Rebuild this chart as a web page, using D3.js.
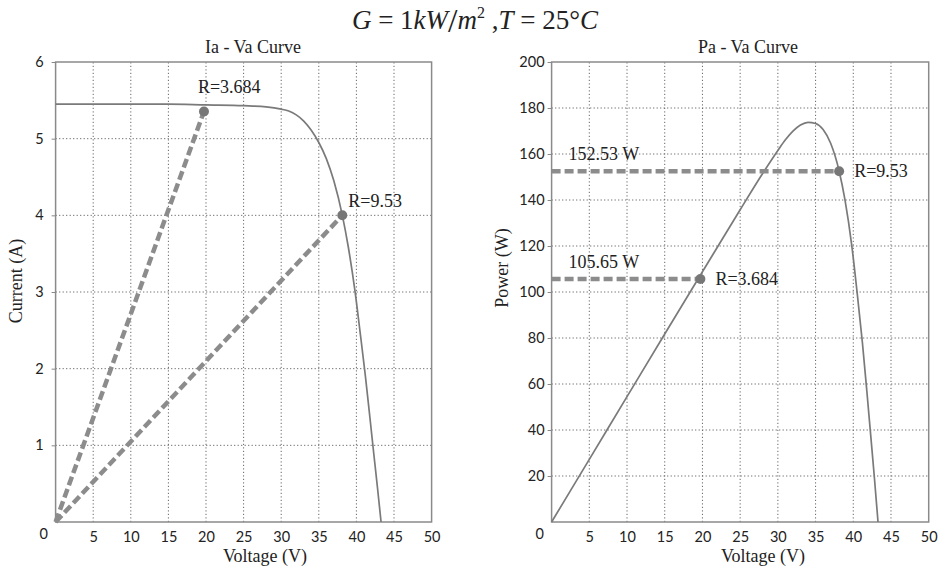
<!DOCTYPE html>
<html>
<head>
<meta charset="utf-8">
<script src="https://cdn.jsdelivr.net/npm/d3@7"></script>
<style>
  body { margin: 0; background: #fff; }
  text { fill: #222; }
</style>
</head>
<body>
<svg id="chart" width="940" height="570"></svg>
<script>
// PV module I-V characteristic at G = 1 kW/m², T = 25 °C
const voltage = [0, 5, 10, 15, 20, 25, 28, 30, 31, 32, 33, 34, 35, 36, 37, 38.13, 38.9, 39.8, 40.5, 41.2, 41.8, 42.3, 42.8, 43.28];
const current = [5.45, 5.45, 5.45, 5.45, 5.44, 5.43, 5.415, 5.385, 5.36, 5.31, 5.23, 5.11, 4.95, 4.74, 4.45, 4.0, 3.6, 3.02, 2.47, 1.9, 1.36, 0.9, 0.45, 0];

// Resistive loads and the power they draw
const loadR = [3.684, 9.53];
const loadP = [105.65, 152.53];

// Axis ticks
const voltageTicks = [5, 10, 15, 20, 25, 30, 35, 40, 45, 50];
const currentTicks = [1, 2, 3, 4, 5, 6];
const powerTicks = [20, 40, 60, 80, 100, 120, 140, 160, 180, 200];

const SERIF = "'Liberation Serif', 'Times New Roman', serif";
const SANS = "Lato, 'Open Sans', sans-serif";

const svg = d3.select("#chart");

// Operating points: V = sqrt(P·R), I = sqrt(P/R)
const ops = loadR.map((r, i) => ({
  r, p: loadP[i], v: Math.sqrt(loadP[i] * r), i: Math.sqrt(loadP[i] / r)
}));

// Title with math-style formatting
const title = svg.append("text")
  .attr("x", 475).attr("y", 29)
  .attr("text-anchor", "middle")
  .style("font-family", SERIF).style("font-size", "27px");
title.append("tspan").style("font-style", "italic").text("G");
title.append("tspan").text(" = 1");
title.append("tspan").style("font-style", "italic").text("kW");
title.append("tspan").style("font-size", "34px").attr("dy", 3).text("/");
title.append("tspan").style("font-style", "italic").attr("dy", -3).text("m");
title.append("tspan").style("font-size", "16px").attr("dy", -11).text("2");
title.append("tspan").attr("dy", 11).text(" ,");
title.append("tspan").style("font-style", "italic").text("T");
title.append("tspan").text(" = 25°");
title.append("tspan").style("font-style", "italic").text("C");

function panel(cfg) {
  const x = d3.scaleLinear().domain([0, 50]).range([cfg.x0, cfg.x1]);
  const y = d3.scaleLinear().domain([0, cfg.yMax]).range([cfg.y0, cfg.y1]);
  const g = svg.append("g");

  // Dotted grid
  const grid = g.append("g")
    .attr("stroke", "#666").attr("stroke-width", 1).attr("stroke-dasharray", "1.2,2.3");
  grid.selectAll(".gx").data(voltageTicks.slice(0, -1)).join("line")
    .attr("x1", d => x(d)).attr("x2", d => x(d))
    .attr("y1", cfg.y0).attr("y2", cfg.y1);
  grid.selectAll(".gy").data(cfg.yTicks.slice(0, -1)).join("line")
    .attr("x1", cfg.x0).attr("x2", cfg.x1)
    .attr("y1", d => y(d)).attr("y2", d => y(d));

  // Axes
  const xAxis = d3.axisBottom(x).tickValues(voltageTicks).tickFormat(d3.format("d"))
    .tickSize(0).tickPadding(10);
  const yAxis = d3.axisLeft(y).tickValues(cfg.yTicks).tickFormat(d3.format("d"))
    .tickSize(4).tickPadding(cfg.pad);
  const gx = g.append("g").attr("transform", `translate(0,${cfg.y0})`).call(xAxis);
  const gy = g.append("g").attr("transform", `translate(${cfg.x0},0)`).call(yAxis);
  [gx, gy].forEach(a => {
    a.select(".domain").remove();
    a.selectAll("line").attr("stroke", "#888");
    a.selectAll("text").style("font-family", SANS).style("font-size", "14.5px").attr("fill", "#222");
  });
  // Shared origin label
  g.append("text").attr("x", cfg.x0 - 12).attr("y", cfg.y0 + 17)
    .attr("text-anchor", "middle")
    .style("font-family", SANS).style("font-size", "14.5px").text("0");

  // Frame
  g.append("rect")
    .attr("x", cfg.x0).attr("y", cfg.y1)
    .attr("width", cfg.x1 - cfg.x0).attr("height", cfg.y0 - cfg.y1)
    .attr("fill", "none").attr("stroke", "#8a8a8a").attr("stroke-width", 1.5);

  // Titles
  g.append("text").attr("x", cfg.titleX).attr("y", 53).attr("text-anchor", "middle")
    .style("font-family", SERIF).style("font-size", "18px").text(cfg.title);
  g.append("text").attr("x", cfg.xLabelX).attr("y", 562).attr("text-anchor", "middle")
    .style("font-family", SERIF).style("font-size", "18px").text("Voltage (V)");
  g.append("text")
    .attr("transform", `translate(${cfg.yLabelX},${cfg.yLabelY}) rotate(-90)`)
    .attr("text-anchor", "middle")
    .style("font-family", SERIF).style("font-size", "18px").text(cfg.yLabel);

  return { g, x, y };
}

const curveLine = (sx, sy) => d3.line().x(d => sx(d[0])).y(d => sy(d[1])).curve(d3.curveMonotoneX);

// ---------- Ia - Va ----------
const left = panel({
  x0: 55.6, x1: 431.6, y0: 522, y1: 62, yMax: 6,
  yTicks: currentTicks, pad: 8,
  title: "Ia - Va Curve", titleX: 253, xLabelX: 265,
  yLabel: "Current (A)", yLabelX: 22, yLabelY: 281
});
const ivData = voltage.map((v, k) => [v, current[k]]);
left.g.append("path").datum(ivData)
  .attr("fill", "none").attr("stroke", "#7a7a7a").attr("stroke-width", 1.7)
  .attr("d", curveLine(left.x, left.y));

// Load lines from the origin to each operating point
left.g.selectAll(".load").data(ops).join("line")
  .attr("x1", left.x(0)).attr("y1", left.y(0))
  .attr("x2", d => left.x(d.v)).attr("y2", d => left.y(d.i))
  .attr("stroke", "#8c8c8c").attr("stroke-width", 4.5).attr("stroke-dasharray", "9,4");
left.g.selectAll(".pt").data(ops).join("circle")
  .attr("cx", d => left.x(d.v)).attr("cy", d => left.y(d.i)).attr("r", 5)
  .attr("fill", "#777");
left.g.append("text").attr("x", left.x(ops[0].v) - 6).attr("y", left.y(ops[0].i) - 18)
  .style("font-family", SERIF).style("font-size", "18px").text("R=" + ops[0].r);
left.g.append("text").attr("x", left.x(ops[1].v) + 6).attr("y", left.y(ops[1].i) - 8)
  .style("font-family", SERIF).style("font-size", "18px").text("R=" + ops[1].r);

// ---------- Pa - Va ----------
const right = panel({
  x0: 551.6, x1: 928.7, y0: 522, y1: 62, yMax: 200,
  yTicks: powerTicks, pad: 3,
  title: "Pa - Va Curve", titleX: 748, xLabelX: 763,
  yLabel: "Power (W)", yLabelX: 508, yLabelY: 268
});
const pvData = voltage.map((v, k) => [v, v * current[k]]);
right.g.append("path").datum(pvData)
  .attr("fill", "none").attr("stroke", "#7a7a7a").attr("stroke-width", 1.7)
  .attr("d", curveLine(right.x, right.y));

right.g.selectAll(".load").data(ops).join("line")
  .attr("x1", right.x(0)).attr("x2", d => right.x(d.v))
  .attr("y1", d => right.y(d.p)).attr("y2", d => right.y(d.p))
  .attr("stroke", "#8c8c8c").attr("stroke-width", 4.5).attr("stroke-dasharray", "9,4");
right.g.selectAll(".pt").data(ops).join("circle")
  .attr("cx", d => right.x(d.v)).attr("cy", d => right.y(d.p)).attr("r", 5)
  .attr("fill", "#777");
right.g.selectAll(".pw").data(ops).join("text")
  .attr("x", right.x(0) + 17).attr("y", d => right.y(d.p) - 11)
  .style("font-family", SERIF).style("font-size", "18px")
  .text(d => d.p.toFixed(2) + " W");
right.g.selectAll(".rl").data(ops).join("text")
  .attr("x", d => right.x(d.v) + 15).attr("y", d => right.y(d.p) + 6)
  .style("font-family", SERIF).style("font-size", "18px")
  .text(d => "R=" + d.r);
</script>
</body>
</html>
